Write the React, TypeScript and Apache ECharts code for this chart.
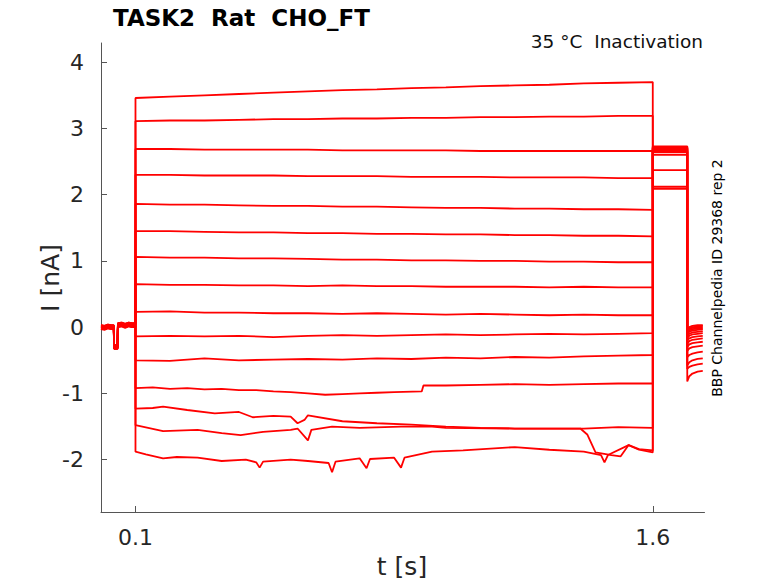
import React, { useEffect, useRef } from "react";
import * as echarts from "echarts";

// ---- time grids (s) ----
const preT = [0, 0.01, 0.02, 0.03, 0.037, 0.038, 0.048, 0.049, 0.06, 0.07, 0.08, 0.09, 0.1];
const preI = [0.0, -0.01, 0.01, 0.0, 0.0, -0.3, -0.3, 0.03, 0.04, 0.02, 0.04, 0.03, 0.03];
const preOffset = [0.03, 0.02, -0.02, 0.01, 0.0, -0.01, 0.02, -0.03, 0.01, 0.0, -0.02, 0.02, -0.01, 0.03, -0.02];

const pulseT = [0.1, 0.2, 0.3, 0.4, 0.5, 0.6, 0.7, 0.8, 0.9, 1.0, 1.1, 1.2, 1.3, 1.4, 1.5, 1.6];

const trace1 = [3.46, 3.48, 3.5, 3.52, 3.54, 3.56, 3.58, 3.59, 3.61, 3.62, 3.64, 3.65, 3.66, 3.68, 3.69, 3.7];
const trace2 = [3.11, 3.12, 3.12, 3.13, 3.14, 3.14, 3.15, 3.15, 3.16, 3.16, 3.17, 3.17, 3.18, 3.18, 3.19, 3.19];
const trace3 = [2.69, 2.69, 2.68, 2.68, 2.68, 2.68, 2.67, 2.67, 2.67, 2.67, 2.66, 2.66, 2.66, 2.66, 2.66, 2.66];
const trace4 = [2.3, 2.3, 2.29, 2.29, 2.29, 2.28, 2.28, 2.28, 2.27, 2.27, 2.27, 2.26, 2.26, 2.26, 2.25, 2.25];
const trace5 = [1.86, 1.85, 1.85, 1.84, 1.83, 1.83, 1.82, 1.82, 1.81, 1.8, 1.8, 1.79, 1.79, 1.78, 1.78, 1.77];
const trace6 = [1.45, 1.45, 1.44, 1.43, 1.43, 1.42, 1.42, 1.41, 1.41, 1.4, 1.4, 1.39, 1.39, 1.38, 1.38, 1.37];
const trace7 = [1.06, 1.05, 1.05, 1.04, 1.04, 1.03, 1.02, 1.02, 1.01, 1.01, 1.0, 1.0, 0.99, 0.99, 0.98, 0.98];
const trace8 = [0.65, 0.64, 0.64, 0.63, 0.63, 0.62, 0.63, 0.62, 0.62, 0.61, 0.61, 0.61, 0.6, 0.61, 0.6, 0.6];
const trace9 = [0.23, 0.24, 0.22, 0.22, 0.21, 0.21, 0.2, 0.21, 0.2, 0.19, 0.2, 0.19, 0.18, 0.19, 0.18, 0.18];
const trace10 = [-0.14, -0.13, -0.14, -0.13, -0.15, -0.13, -0.12, -0.13, -0.12, -0.11, -0.12, -0.11, -0.1, -0.11, -0.1, -0.09];
const trace11 = [-0.5, -0.51, -0.47, -0.5, -0.49, -0.48, -0.49, -0.47, -0.48, -0.46, -0.47, -0.45, -0.46, -0.44, -0.43, -0.42];

const trace12T = [0.1, 0.15, 0.2, 0.25, 0.3, 0.35, 0.4, 0.45, 0.5, 0.55, 0.6, 0.65, 0.7, 0.75, 0.8, 0.85, 0.93, 0.935, 1.0, 1.1, 1.2, 1.3, 1.4, 1.5, 1.6];
const trace12 = [-0.92, -0.91, -0.93, -0.92, -0.94, -0.93, -0.95, -0.95, -0.97, -0.98, -1.0, -1.02, -1.01, -1.0, -0.99, -0.98, -0.97, -0.88, -0.88, -0.87, -0.86, -0.87, -0.86, -0.85, -0.85];

const trace13T = [0.1, 0.15, 0.18, 0.25, 0.33, 0.4, 0.44, 0.5, 0.55, 0.57, 0.59, 0.6, 0.7, 0.8, 0.9, 1.0, 1.1, 1.2, 1.3, 1.39, 1.41, 1.434, 1.48, 1.507, 1.53, 1.56, 1.6];
const trace13 = [-1.23, -1.22, -1.2, -1.25, -1.3, -1.28, -1.36, -1.34, -1.35, -1.45, -1.4, -1.33, -1.42, -1.45, -1.47, -1.5, -1.52, -1.53, -1.53, -1.53, -1.62, -1.89, -1.93, -1.95, -1.78, -1.84, -1.86];

const trace14T = [0.1, 0.18, 0.28, 0.35, 0.405, 0.47, 0.55, 0.57, 0.6, 0.61, 0.67, 0.75, 0.87, 0.96, 1.0, 1.2, 1.4, 1.5, 1.6];
const trace14 = [-1.48, -1.57, -1.55, -1.6, -1.63, -1.58, -1.55, -1.53, -1.71, -1.55, -1.5, -1.52, -1.5, -1.5, -1.52, -1.53, -1.53, -1.51, -1.52];

const trace15T = [0.1, 0.13, 0.18, 0.22, 0.28, 0.35, 0.42, 0.45, 0.46, 0.47, 0.55, 0.6, 0.66, 0.67, 0.68, 0.75, 0.77, 0.78, 0.85, 0.87, 0.88, 0.96, 1.05, 1.2, 1.3, 1.4, 1.45, 1.46, 1.47, 1.53, 1.56, 1.6];
const trace15 = [-1.88, -1.92, -1.98, -1.96, -1.97, -2.02, -2.0, -2.04, -2.12, -2.03, -2.0, -2.02, -2.05, -2.19, -2.03, -1.98, -2.13, -1.99, -1.97, -2.12, -1.97, -1.88, -1.86, -1.81, -1.85, -1.88, -1.93, -2.04, -1.93, -1.78, -1.85, -1.89];

// test pulse after conditioning step (1.6 s to 1.7 s)
const tailT = [1.6, 1.7];
const tailLevels = [2.09, 2.12, 2.37, 2.6, 2.64, 2.65, 2.66, 2.67, 2.68, 2.69, 2.7, 2.71, 2.72, 2.73, 2.71];

// return to holding (1.7 s onward)
const postT = [1.7, 1.706, 1.715, 1.73, 1.745];
const post = [
  [-0.82, -0.74, -0.7, -0.67, -0.66],
  [-0.63, -0.6, -0.58, -0.56, -0.55],
  [-0.58, -0.53, -0.5, -0.48, -0.47],
  [-0.45, -0.42, -0.4, -0.38, -0.37],
  [-0.36, -0.32, -0.3, -0.29, -0.28],
  [-0.3, -0.26, -0.24, -0.23, -0.22],
  [-0.25, -0.21, -0.19, -0.18, -0.17],
  [-0.2, -0.17, -0.15, -0.14, -0.13],
  [-0.16, -0.13, -0.11, -0.1, -0.09],
  [-0.13, -0.1, -0.08, -0.07, -0.06],
  [-0.1, -0.07, -0.05, -0.04, -0.03],
  [-0.08, -0.05, -0.03, -0.02, -0.02],
  [-0.06, -0.03, -0.01, 0.0, 0.0],
  [-0.04, -0.02, 0.0, 0.01, 0.02],
  [-0.03, 0.0, 0.02, 0.03, 0.03],
];

const xTicks = [0.1, 1.6];
const yTicks = [-2, -1, 0, 1, 2, 3, 4];

const pulses: [number[], number[]][] = [
  [pulseT, trace1], [pulseT, trace2], [pulseT, trace3], [pulseT, trace4], [pulseT, trace5],
  [pulseT, trace6], [pulseT, trace7], [pulseT, trace8], [pulseT, trace9], [pulseT, trace10],
  [pulseT, trace11], [trace12T, trace12], [trace13T, trace13], [trace14T, trace14], [trace15T, trace15],
];

const FONT = "DejaVu Sans";

export default function App() {
  const ref = useRef<HTMLDivElement>(null);
  useEffect(() => {
    if (!ref.current) return;
    const chart = echarts.init(ref.current, null, { renderer: "svg" });
    const series = pulses.map(([ts, vs], i) => {
      const data: number[][] = [];
      preT.forEach((t, k) => data.push([t, preI[k] + preOffset[i]]));
      ts.forEach((t, k) => data.push([t, vs[k]]));
      tailT.forEach((t) => data.push([t, tailLevels[i]]));
      postT.forEach((t, k) => data.push([t, post[i][k]]));
      return {
        type: "line",
        data,
        showSymbol: false,
        silent: true,
        lineStyle: { color: "#ff0000", width: 1.8 },
        z: 2,
      };
    });
    chart.setOption({
      animation: false,
      backgroundColor: "#ffffff",
      grid: { left: 101, top: 43, right: 73.5, bottom: 71, containLabel: false },
      xAxis: {
        type: "value",
        min: 0,
        max: 1.75,
        axisLine: { show: true, onZero: false, lineStyle: { color: "#555555", width: 1 } },
        axisTick: { show: true, inside: true, length: 6, customValues: xTicks, lineStyle: { color: "#555555" } },
        axisLabel: { customValues: xTicks, color: "#262626", fontSize: 22, fontFamily: FONT, margin: 14 },
        splitLine: { show: false },
      },
      yAxis: {
        type: "value",
        min: -2.79,
        max: 4.29,
        axisLine: { show: true, onZero: false, lineStyle: { color: "#555555", width: 1 } },
        axisTick: { show: true, inside: true, length: 6, customValues: yTicks, lineStyle: { color: "#555555" } },
        axisLabel: { customValues: yTicks, color: "#262626", fontSize: 22, fontFamily: FONT, margin: 17 },
        splitLine: { show: false },
      },
      series,
      graphic: [
        {
          type: "text",
          x: 113,
          y: 18,
          style: { text: "TASK2  Rat  CHO_FT", fill: "#000", font: `bold 23px "${FONT}"`, verticalAlign: "middle", align: "left" },
        },
        {
          type: "text",
          x: 703,
          y: 41,
          style: { text: "35 °C  Inactivation", fill: "#111", font: `18.5px "${FONT}"`, verticalAlign: "middle", align: "right" },
        },
        {
          type: "text",
          x: 717,
          y: 278,
          rotation: Math.PI / 2,
          style: { text: "BBP Channelpedia ID 29368 rep 2", fill: "#000", font: `14px "${FONT}"`, verticalAlign: "middle", align: "center" },
        },
        {
          type: "text",
          x: 50,
          y: 278,
          rotation: Math.PI / 2,
          style: { text: "I [nA]", fill: "#262626", font: `25px "${FONT}"`, verticalAlign: "middle", align: "center" },
        },
        {
          type: "text",
          x: 402,
          y: 566,
          style: { text: "t [s]", fill: "#262626", font: `25px "${FONT}"`, verticalAlign: "middle", align: "center" },
        },
      ],
    });
    return () => chart.dispose();
  }, []);
  return <div ref={ref} style={{ position: "absolute", left: 0, top: 0, width: 778, height: 583 }} />;
}
